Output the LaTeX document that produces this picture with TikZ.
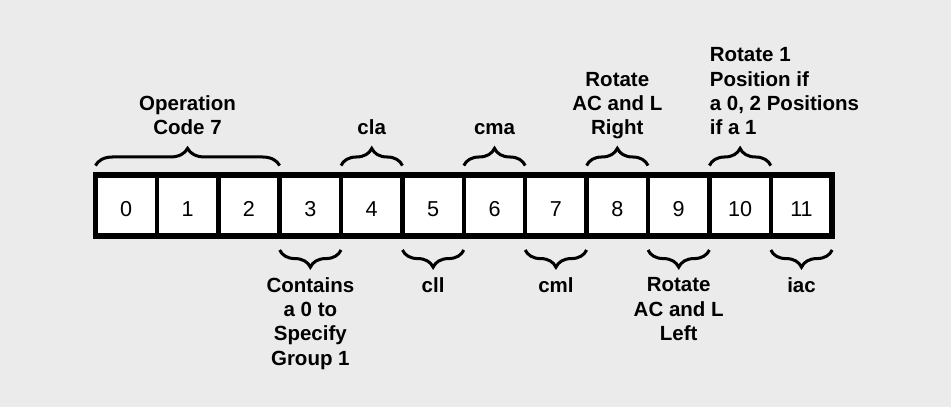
\documentclass[tikz,border=0pt]{standalone}
\usepackage{fontspec}
\setmainfont{Liberation Sans}
\usetikzlibrary{positioning,decorations.pathreplacing}

\begin{document}
\begin{tikzpicture}[
        bit/.style={draw, fill=white, line width=2.1pt, minimum width=1cm, minimum height=1cm,
            inner sep=0pt, outer sep=0pt, font=\fontsize{10}{12}\selectfont, text height=10.4pt},
        grp/.style={decorate, decoration={brace, amplitude=0.28cm}, line width=1.4pt},
        lbl/.style={font=\fontsize{9.5}{11.2}\selectfont\bfseries, align=center, inner sep=0pt},
        lblabove/.style={lbl, text depth=0pt}]
        % Background
        \fill[black!8] (0,0) rectangle (15.49,6.629);
        \useasboundingbox (0,0) rectangle (15.49,6.629);

        % Instruction word
        \foreach \i in {0,...,11}
            \node[bit] (b\i) at (2.055+\i, 3.282) {\i};
        \draw[line width=2.6pt] (b0.north west) rectangle (b11.south east);

        % Braces above
        \foreach \a/\b in {0/2, 4/4, 6/6, 8/8, 10/10}
            \draw[grp] ([yshift=0.15cm]b\a.north west) -- ([yshift=0.15cm]b\b.north east);
        % Braces below
        \foreach \a in {3, 5, 7, 9, 11}
            \draw[grp] ([yshift=-0.225cm]b\a.south east) -- ([yshift=-0.225cm]b\a.south west);

        % Labels above
        \node[lblabove, above=0.65cm of b1] (opcode) {Operation\\Code 7};
        \node[lblabove, above=0.65cm of b4] (cla) {cla};
        \node[lblabove, above=0.65cm of b6] (cma) {cma};
        \node[lblabove, above=0.65cm of b8] (rar) {Rotate\\AC and L\\Right};
        \node[lblabove, align=left, above right=0.65cm and 0cm of b10.north west] (rtwo) {Rotate 1\\Position if\\a 0, 2 Positions\\if a 1};

        % Labels below
        \node[lbl, below=0.67cm of b3] (group) {Contains\\a 0 to\\Specify\\Group 1};
        \node[lbl, below=0.67cm of b5] (cll) {cll};
        \node[lbl, below=0.67cm of b7] (cml) {cml};
        \node[lbl, below=0.67cm of b9] (ral) {Rotate\\AC and L\\Left};
        \node[lbl, below=0.67cm of b11] (iac) {iac};
\end{tikzpicture}
\end{document}
